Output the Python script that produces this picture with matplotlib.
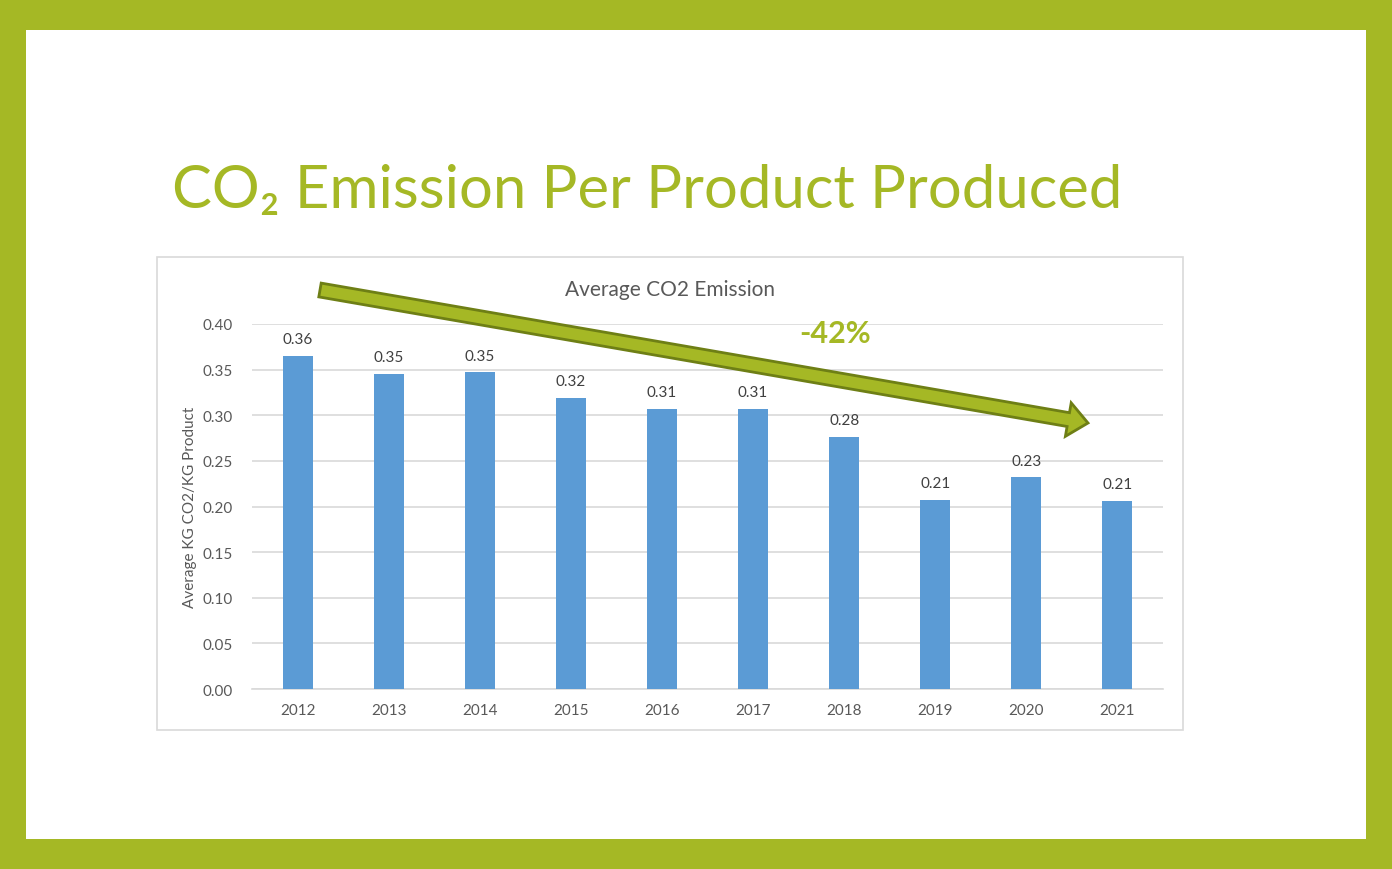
#!/usr/bin/env python3

import matplotlib
matplotlib.use("Agg")
import matplotlib.pyplot as plt
from matplotlib.patches import Rectangle, Polygon
from matplotlib.transforms import Affine2D
import numpy as np

# -----------------------------------------------------------------------------
# data
# -----------------------------------------------------------------------------

years = ["2012", "2013", "2014", "2015", "2016", "2017", "2018", "2019", "2020", "2021"]
co2 = [0.365, 0.345, 0.347, 0.319, 0.307, 0.307, 0.276, 0.207, 0.232, 0.206]
labels = ["0.36", "0.35", "0.35", "0.32", "0.31", "0.31", "0.28", "0.21", "0.23", "0.21"]
yticks = [0.00, 0.05, 0.10, 0.15, 0.20, 0.25, 0.30, 0.35, 0.40]

# -----------------------------------------------------------------------------
# style
# -----------------------------------------------------------------------------

GREEN = "#A5B825"
DARK_GREEN = "#6E7F15"
BLUE = "#5B9BD5"
GRID = "#D9D9D9"
TEXT = "#595959"

plt.rcParams["font.family"] = ["Lato", "DejaVu Sans"]

W, H = 1392, 870
fig = plt.figure(figsize=(W / 100, H / 100), dpi=100)
fig.patch.set_facecolor(GREEN)

# pixel coords (y down) -> display
px = Affine2D().scale(1, -1).translate(0, H)

# white slide area
fig.patches.append(Rectangle((26, 31), 1340, 809, transform=px,
                             facecolor="white", edgecolor="none", zorder=0))
# chart frame
fig.patches.append(Rectangle((157, 258), 1026, 473, transform=px,
                             facecolor="white", edgecolor=GRID, lw=1.2, zorder=1))

fig.text(172, 208, "CO₂ Emission Per Product Produced", transform=px,
         fontsize=43, color=GREEN, ha="left", va="baseline")

# -----------------------------------------------------------------------------
# plot
# -----------------------------------------------------------------------------

ax = fig.add_axes([252 / W, 1 - 690 / H, 911 / W, 365 / H])
ax.set_facecolor("none")
ax.set_zorder(2)
x = np.arange(len(years))
ax.bar(x, co2, width=0.33, color=BLUE, zorder=3)
for xi, v, lab in zip(x, co2, labels):
    ax.annotate(lab, (xi, v), xytext=(0, 7), textcoords="offset points",
                ha="center", va="bottom", fontsize=11, color="#404040")

ax.set_xlim(-0.5, len(years) - 0.5)
ax.set_ylim(0, 0.40)
ax.set_yticks(yticks)
ax.set_yticklabels([f"{t:.2f}" for t in yticks])
ax.set_xticks(x)
ax.set_xticklabels(years)
ax.tick_params(length=0, labelsize=11, labelcolor=TEXT)
ax.tick_params(axis="x", pad=10)
ax.tick_params(axis="y", pad=14)
ax.grid(axis="y", color=GRID, lw=1.2, zorder=0)
for s in ["top", "right", "left"]:
    ax.spines[s].set_visible(False)
ax.spines["bottom"].set_color(GRID)
ax.spines["bottom"].set_linewidth(1.2)
ax.set_ylabel("Average KG CO2/KG Product", fontsize=11, color=TEXT, labelpad=4)

fig.text(670, 296, "Average CO2 Emission", transform=px, fontsize=15,
         color=TEXT, ha="center", va="baseline")

# trend arrow
x0, y0 = 320, 291
x1, y1 = 1088, 424
d = np.array([x1 - x0, y1 - y0], dtype=float)
L = np.hypot(*d)
u = d / L
n = np.array([-u[1], u[0]])
sw, hw, hl = 7, 17, 20
p0 = np.array([x0, y0], dtype=float)
tip = np.array([x1, y1], dtype=float)
base = tip - u * hl
pts = [p0 + n * sw, base + n * sw, base + n * hw, tip,
       base - n * hw, base - n * sw, p0 - n * sw]
fig.patches.append(Polygon(pts, closed=True, transform=px, facecolor=GREEN,
                           edgecolor=DARK_GREEN, lw=2, zorder=5))

fig.text(835, 343, "-42%", transform=px, fontsize=22, fontweight="bold",
         color=GREEN, ha="center", va="baseline", zorder=6)

fig.savefig("out.png", dpi=100, facecolor=fig.get_facecolor())
